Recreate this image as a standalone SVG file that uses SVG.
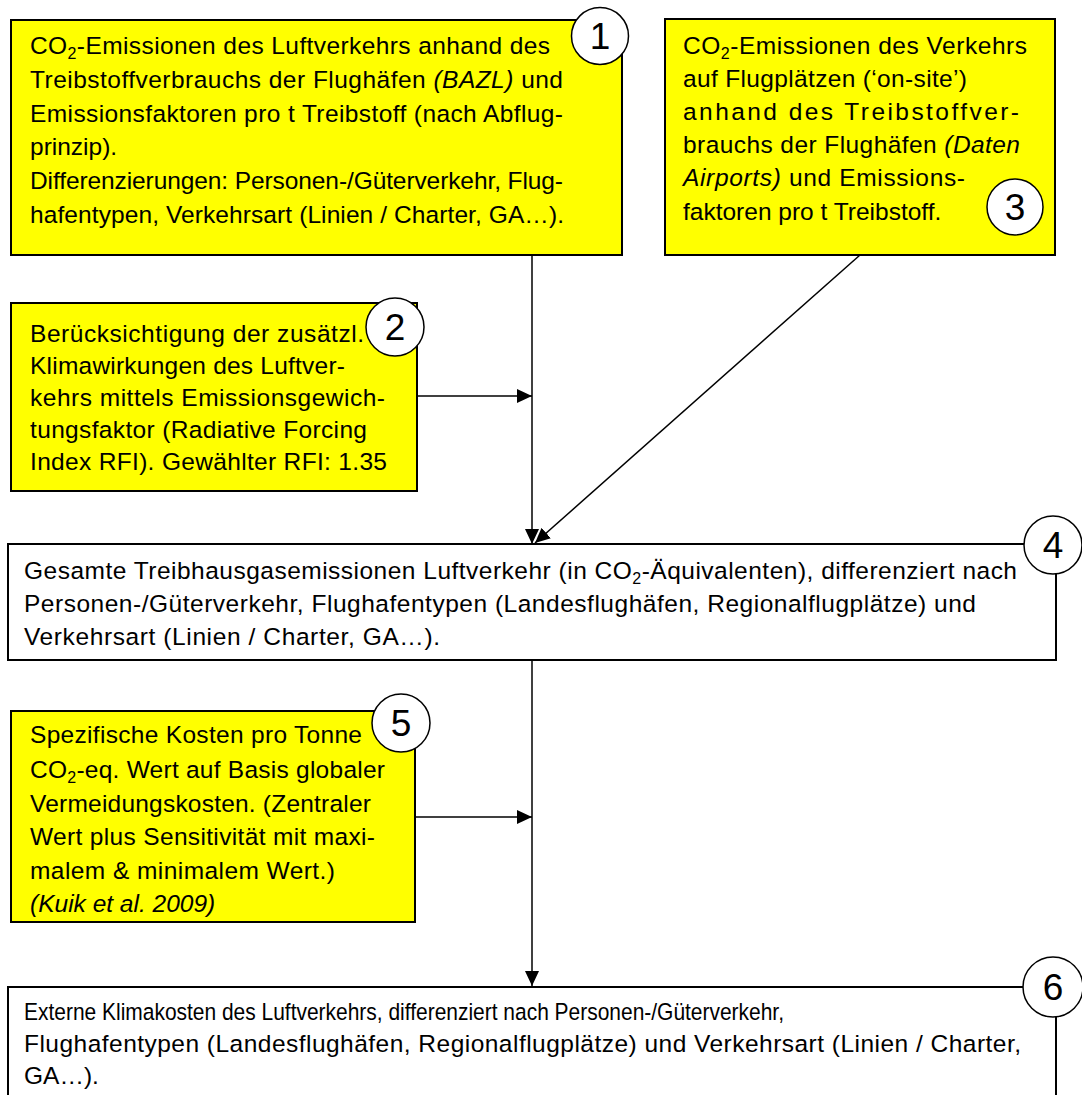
<svg xmlns="http://www.w3.org/2000/svg" width="1082" height="1095" viewBox="0 0 1082 1095">
<style>
.t{font-family:"Liberation Sans",Arial,sans-serif;font-size:24.5px;fill:#000}
.i{font-style:italic}
.y{fill:#ffff00;stroke:#000;stroke-width:2}
.w{fill:#fff;stroke:#000;stroke-width:2}
.c{fill:#fff;stroke:#000;stroke-width:1.5}
.n{font-family:"Liberation Sans",Arial,sans-serif;font-size:37px;text-anchor:middle;fill:#000}
.l{fill:none;stroke:#000;stroke-width:1.5}
</style>
<defs>
<marker id="ah" markerUnits="userSpaceOnUse" markerWidth="16" markerHeight="14" refX="15" refY="7" orient="auto">
<path d="M0,0 L15,7 L0,14 z" fill="#000"/>
</marker>
</defs>
<rect width="1082" height="1095" fill="#fff"/>

<g id="connectors">
<line class="l" x1="532" y1="255" x2="532" y2="544" marker-end="url(#ah)"/>
<line class="l" x1="417" y1="396" x2="532" y2="396" marker-end="url(#ah)"/>
<line class="l" x1="860" y1="255" x2="535" y2="543" marker-end="url(#ah)"/>
<line class="l" x1="532" y1="660" x2="532" y2="986" marker-end="url(#ah)"/>
<line class="l" x1="415" y1="817" x2="532" y2="817" marker-end="url(#ah)"/>
</g>

<g id="node1">
<rect class="y" x="11" y="20" width="611" height="235"/>
<text class="t" x="30" y="54" textLength="520">CO<tspan font-size="16" dy="5">2</tspan><tspan dy="-5">-Emissionen des Luftverkehrs anhand des</tspan></text>
<text class="t" x="30" y="88" textLength="533">Treibstoffverbrauchs der Flughäfen <tspan class="i">(BAZL)</tspan> und</text>
<text class="t" x="30" y="122" textLength="533">Emissionsfaktoren pro t Treibstoff (nach Abflug-</text>
<text class="t" x="30" y="155">prinzip).</text>
<text class="t" x="30" y="189" textLength="533">Differenzierungen: Personen-/Güterverkehr, Flug-</text>
<text class="t" x="30" y="223" textLength="534">hafentypen, Verkehrsart (Linien / Charter, GA…).</text>
<circle class="c" cx="600" cy="36" r="28.5"/>
<text class="n" x="600" y="49">1</text>
</g>

<g id="node3">
<rect class="y" x="665" y="19" width="390" height="236"/>
<text class="t" x="683" y="54" textLength="344">CO<tspan font-size="16" dy="5">2</tspan><tspan dy="-5">-Emissionen des Verkehrs</tspan></text>
<text class="t" x="683" y="87" textLength="284">auf Flugplätzen (‘on-site’)</text>
<text class="t" x="683" y="120" textLength="336">anhand des Treibstoffver-</text>
<text class="t" x="683" y="153" textLength="337">brauchs der Flughäfen <tspan class="i">(Daten</tspan></text>
<text class="t" x="683" y="186" textLength="282"><tspan class="i">Airports)</tspan> und Emissions-</text>
<text class="t" x="683" y="220">faktoren pro t Treibstoff.</text>
<circle class="c" cx="1015" cy="207" r="28"/>
<text class="n" x="1015" y="220">3</text>
</g>

<g id="node2">
<rect class="y" x="11" y="303" width="406" height="188"/>
<text class="t" x="30" y="342" textLength="334">Berücksichtigung der zusätzl.</text>
<text class="t" x="30" y="374" textLength="315">Klimawirkungen des Luftver-</text>
<text class="t" x="30" y="406" textLength="355">kehrs mittels Emissionsgewich-</text>
<text class="t" x="30" y="438" textLength="337">tungsfaktor (Radiative Forcing</text>
<text class="t" x="30" y="470" textLength="357">Index RFI). Gewählter RFI: 1.35</text>
<circle class="c" cx="395" cy="327" r="29"/>
<text class="n" x="395" y="340">2</text>
</g>

<g id="node4">
<rect class="w" x="8" y="544" width="1048" height="116"/>
<text class="t" x="24" y="579" textLength="993">Gesamte Treibhausgasemissionen Luftverkehr (in CO<tspan font-size="16" dy="5">2</tspan><tspan dy="-5">-Äquivalenten), differenziert nach</tspan></text>
<text class="t" x="24" y="612" textLength="952">Personen-/Güterverkehr, Flughafentypen (Landesflughäfen, Regionalflugplätze) und</text>
<text class="t" x="24" y="645" textLength="416">Verkehrsart (Linien / Charter, GA…).</text>
<circle class="c" cx="1053" cy="545" r="29"/>
<text class="n" x="1053" y="558">4</text>
</g>

<g id="node5">
<rect class="y" x="11" y="711" width="404" height="211"/>
<text class="t" x="30" y="743" textLength="332">Spezifische Kosten pro Tonne</text>
<text class="t" x="30" y="778" textLength="355">CO<tspan font-size="16" dy="5">2</tspan><tspan dy="-5">-eq. Wert auf Basis globaler</tspan></text>
<text class="t" x="30" y="812" textLength="341">Vermeidungskosten. (Zentraler</text>
<text class="t" x="30" y="845" textLength="345">Wert plus Sensitivität mit maxi-</text>
<text class="t" x="30" y="879" textLength="305">malem &amp; minimalem Wert.)</text>
<text class="t i" x="30" y="912">(Kuik et al. 2009)</text>
<circle class="c" cx="401" cy="723" r="29"/>
<text class="n" x="401" y="736">5</text>
</g>

<g id="node6">
<rect class="w" x="8" y="987" width="1048" height="130"/>
<text class="t" x="24" y="1020" textLength="760" lengthAdjust="spacingAndGlyphs">Externe Klimakosten des Luftverkehrs, differenziert nach Personen-/Güterverkehr,</text>
<text class="t" x="24" y="1052" textLength="997">Flughafentypen (Landesflughäfen, Regionalflugplätze) und Verkehrsart (Linien / Charter,</text>
<text class="t" x="24" y="1084">GA…).</text>
<circle class="c" cx="1053" cy="987" r="30"/>
<text class="n" x="1053" y="1000">6</text>
</g>
</svg>
